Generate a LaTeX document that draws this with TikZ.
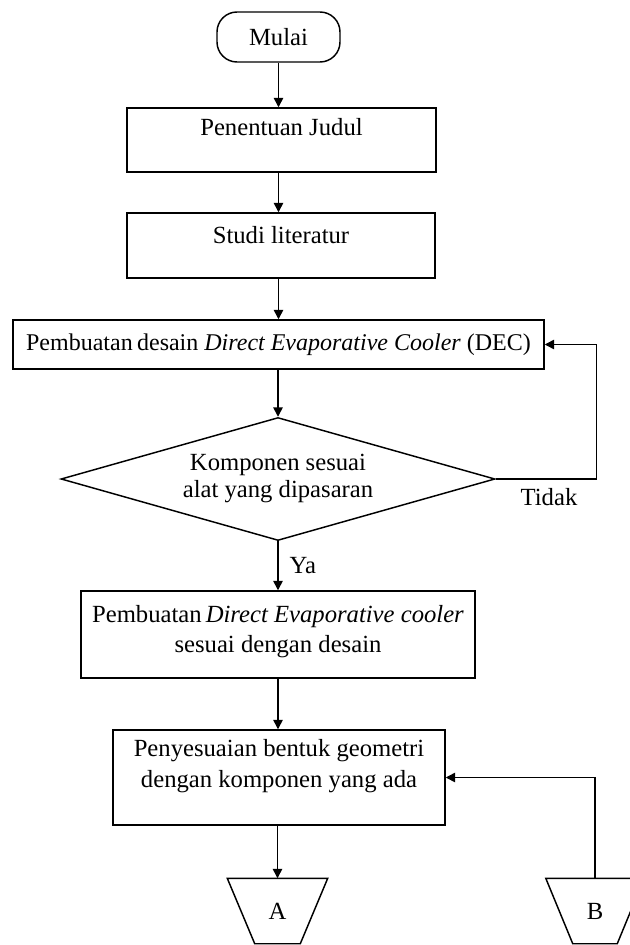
\documentclass[tikz,border=0pt]{standalone}
\usepackage{fontspec}
\setmainfont{Liberation Serif}
\usetikzlibrary{arrows.meta,shapes.geometric,calc}
\begin{document}
\begin{tikzpicture}[x=0.75pt,y=-0.75pt,
  line width=1.1pt,
  box/.style={draw, rectangle, inner sep=0pt, align=center, font=\fontsize{18.5}{22}\selectfont},
  txt/.style={inner sep=0pt, align=center, font=\fontsize{18.5}{22}\selectfont},
  arr/.style={-{Triangle[length=7pt,width=7pt]}},
  offpage/.style={inner sep=0pt, font=\fontsize{18.5}{22}\selectfont},
]
\useasboundingbox (0,0) rectangle (630,945);
\clip (0,0) rectangle (630,945);

% nodes
\node[box, rounded corners=15pt, minimum width=92.25pt, minimum height=37.5pt] (mulai) at (278.5,37) {Mulai};

\node[box, minimum width=231.75pt, minimum height=48pt] (judul) at (281.5,140) {};
\node[txt] (judult) at (281.5,127) {Penentuan Judul};

\node[box, minimum width=231pt, minimum height=48.75pt] (studi) at (281,245.5) {};
\node[txt] (studit) at (281,235) {Studi literatur};

\node[box, font=\fontsize{18}{22}\selectfont, minimum width=398.25pt, minimum height=36.75pt] (dec) at (278.5,344.5)
  {Pembuatan\hspace{0.18em}desain \textit{Direct Evaporative Cooler} (DEC)};

\node[draw, diamond, inner sep=0pt, minimum width=325.5pt, minimum height=92.25pt] (dia) at (278,479) {};
\node[txt, font=\fontsize{18.5}{20.25}\selectfont] (diat) at (278,478.5) {Komponen sesuai\\alat yang dipasaran};

\node[box, minimum width=295.5pt, minimum height=65.25pt] (pemb) at (278,634.5) {};
\node[txt, font=\fontsize{18.5}{22.5}\selectfont] (pembt) at (278,632) {Pembuatan\,\textit{Direct Evaporative cooler}\\sesuai dengan desain};

\node[box, minimum width=249pt, minimum height=71.25pt] (peny) at (279,777.5) {};
\node[txt, font=\fontsize{18.5}{23.25}\selectfont] (penyt) at (279,766.5) {Penyesuaian bentuk geometri\\dengan komponen yang ada};

\node[offpage, minimum width=74.25pt, minimum height=48pt] (A) at (277.5,911) {A};
\draw (A.north west) -- (A.north east) -- ([xshift=-20.6pt]A.south east) -- ([xshift=20.6pt]A.south west) -- cycle;

\node[offpage, minimum width=72.75pt, minimum height=48pt] (B) at (595,911) {B};
\draw (B.north west) -- (B.north east) -- ([xshift=-20.25pt]B.south east) -- ([xshift=20.25pt]B.south west) -- cycle;

\node[txt, anchor=west] (ya) at (289,566) {Ya};
\node[txt] (tidak) at (549,497) {Tidak};

% connectors
\draw[arr] (mulai.south) -- (mulai.south |- judul.north);
\draw[arr] (judul.south -| mulai.south) -- (studi.north -| mulai.south);
\draw[arr] (studi.south -| mulai.south) -- (dec.north -| mulai.south);
\draw[arr] (dec.south -| dia.north) -- (dia.north);
\draw[arr] (dia.south) -- (pemb.north);
\draw[arr] (pemb.south) -- (peny.north -| pemb.south);
\draw[arr] (peny.south -| A.north) -- (A.north);
\draw[arr] (dia.east) -| ([xshift=39pt]dec.east) -- (dec.east);
\draw[arr] (B.north) |- (peny.east);
\end{tikzpicture}
\end{document}
